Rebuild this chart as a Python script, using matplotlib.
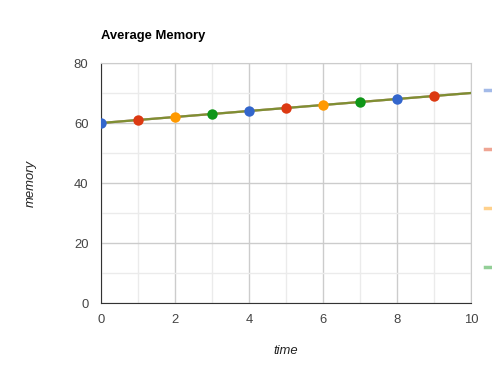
import numpy as np
import matplotlib.pyplot as plt
from matplotlib.lines import Line2D

plt.rcParams['font.family'] = ['Liberation Sans', 'DejaVu Sans']

# data
time = [0, 1, 2, 3, 4, 5, 6, 7, 8, 9, 10]
memory = [60, 61, 62, 63, 64, 65, 66, 67, 68, 69, 70]
series_colors = ['#3366cc', '#dc3912', '#ff9900', '#109618']
# each series shows a dot at every fourth sample, offset by its index
marker_every = [(0, 4), (1, 4), (2, 4), (3, 4)]

fs = 9.4  # ~13px

fig = plt.figure(figsize=(4.92, 3.70), dpi=100)
ax = fig.add_axes([101/492, 1 - 303/370, 370/492, 240/370])

for c, me in zip(series_colors, marker_every):
    ax.plot(time, memory, color=c, lw=1.6, alpha=0.45, zorder=3)
    ax.plot(time[:-1], memory[:-1], ls='none', marker='o', markevery=me,
            ms=7.5, color=c, markeredgewidth=0, zorder=4)

ax.set_xlim(0, 10)
ax.set_ylim(0, 80)
ax.set_xticks(range(0, 11, 2))
ax.set_xticks(range(1, 10, 2), minor=True)
ax.set_yticks(range(0, 81, 20))
ax.set_yticks(range(10, 80, 20), minor=True)
ax.grid(which='major', color='#cccccc', lw=1)
ax.grid(which='minor', color='#ebebeb', lw=1)
ax.set_axisbelow(True)
ax.tick_params(which='both', length=0, labelsize=fs, colors='#444444', pad=9)
ax.tick_params(axis='x', pad=8)
for s in ['top', 'right']:
    ax.spines[s].set_color('#cccccc')
for s in ['left', 'bottom']:
    ax.spines[s].set_color('#333333')

fig.text(101/492, 1 - 36/370, 'Average Memory', fontsize=fs, fontweight='bold',
         va='center', ha='left')
fig.text(286/492, 1 - 351/370, 'time', fontsize=fs, style='italic',
         va='center', ha='center', color='#222222')
fig.text(31/492, 1 - 183/370, 'memory', fontsize=fs, style='italic',
         va='center', ha='center', rotation=90, color='#222222')

# legend swatches, cut off at the right edge like the original
for i, c in enumerate(series_colors):
    y = 1 - (90 + 59 * i) / 370
    fig.add_artist(Line2D([485/492, 1.0], [y, y], color=c, lw=2.5, alpha=0.45))

fig.savefig('out.png', dpi=100)
